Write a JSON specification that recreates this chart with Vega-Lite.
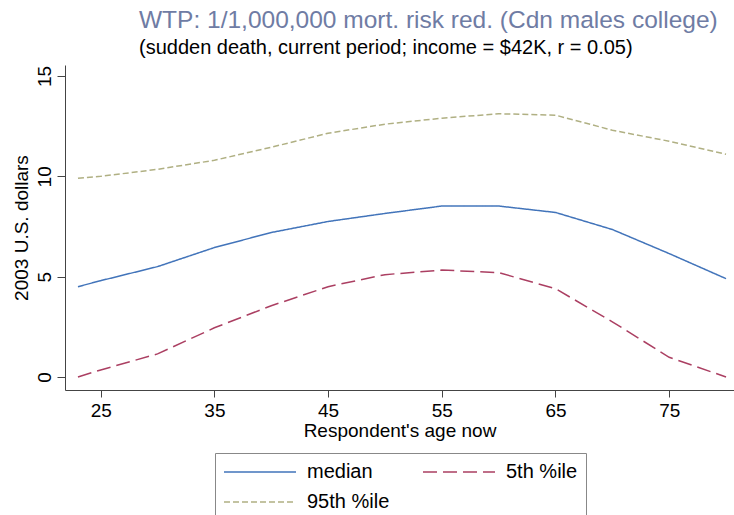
{
  "$schema": "https://vega.github.io/schema/vega-lite/v6.json",
  "width": 669,
  "height": 325,
  "autosize": {"type": "none"},
  "padding": {"left": 65, "top": 65, "right": 0, "bottom": 125},
  "background": "white",
  "title": {
    "text": "WTP: 1/1,000,000 mort. risk red. (Cdn males college)",
    "subtitle": "(sudden death, current period; income = $42K, r = 0.05)",
    "anchor": "start",
    "frame": "group",
    "dx": 74,
    "font": "Liberation Sans",
    "fontSize": 24.5,
    "fontWeight": "normal",
    "color": "#6f7ca4",
    "subtitleFont": "Liberation Sans",
    "subtitleFontSize": 20,
    "subtitleColor": "#000000",
    "subtitlePadding": 5,
    "offset": 6
  },
  "config": {
    "view": {"stroke": null},
    "axis": {
      "labelFont": "Liberation Sans",
      "titleFont": "Liberation Sans",
      "labelFontSize": 19,
      "titleFontSize": 19,
      "titleFontWeight": "normal",
      "labelColor": "#000000",
      "titleColor": "#000000",
      "domainColor": "#444444",
      "tickColor": "#444444",
      "grid": false,
      "tickSize": 7
    },
    "legend": {
      "labelFont": "Liberation Sans",
      "labelFontSize": 20,
      "labelColor": "#000000",
      "symbolType": "M-1,0H6.2",
      "symbolSize": 400,
      "symbolStrokeWidth": 1.5,
      "labelOffset": 62,
      "columnPadding": 30,
      "rowPadding": 9,
      "strokeColor": "#888888",
      "padding": 8,
      "labelLimit": 300
    }
  },
  "data": {
    "values": [
      {"age": 23, "value": 4.5, "series": "median"},
      {"age": 25, "value": 4.8, "series": "median"},
      {"age": 30, "value": 5.5, "series": "median"},
      {"age": 35, "value": 6.45, "series": "median"},
      {"age": 40, "value": 7.2, "series": "median"},
      {"age": 45, "value": 7.75, "series": "median"},
      {"age": 50, "value": 8.15, "series": "median"},
      {"age": 55, "value": 8.52, "series": "median"},
      {"age": 60, "value": 8.52, "series": "median"},
      {"age": 65, "value": 8.2, "series": "median"},
      {"age": 70, "value": 7.35, "series": "median"},
      {"age": 75, "value": 6.15, "series": "median"},
      {"age": 80, "value": 4.9, "series": "median"},
      {"age": 23, "value": 0.0, "series": "5th %ile"},
      {"age": 25, "value": 0.35, "series": "5th %ile"},
      {"age": 30, "value": 1.15, "series": "5th %ile"},
      {"age": 35, "value": 2.45, "series": "5th %ile"},
      {"age": 40, "value": 3.55, "series": "5th %ile"},
      {"age": 45, "value": 4.5, "series": "5th %ile"},
      {"age": 50, "value": 5.1, "series": "5th %ile"},
      {"age": 55, "value": 5.33, "series": "5th %ile"},
      {"age": 60, "value": 5.2, "series": "5th %ile"},
      {"age": 65, "value": 4.4, "series": "5th %ile"},
      {"age": 70, "value": 2.75, "series": "5th %ile"},
      {"age": 75, "value": 0.98, "series": "5th %ile"},
      {"age": 80, "value": 0.0, "series": "5th %ile"},
      {"age": 23, "value": 9.9, "series": "95th %ile"},
      {"age": 25, "value": 10.0, "series": "95th %ile"},
      {"age": 30, "value": 10.35, "series": "95th %ile"},
      {"age": 35, "value": 10.8, "series": "95th %ile"},
      {"age": 40, "value": 11.45, "series": "95th %ile"},
      {"age": 45, "value": 12.15, "series": "95th %ile"},
      {"age": 50, "value": 12.6, "series": "95th %ile"},
      {"age": 55, "value": 12.9, "series": "95th %ile"},
      {"age": 60, "value": 13.12, "series": "95th %ile"},
      {"age": 65, "value": 13.05, "series": "95th %ile"},
      {"age": 70, "value": 12.3, "series": "95th %ile"},
      {"age": 75, "value": 11.75, "series": "95th %ile"},
      {"age": 80, "value": 11.1, "series": "95th %ile"}
    ]
  },
  "mark": {"type": "line", "strokeWidth": 1.5},
  "encoding": {
    "x": {
      "field": "age",
      "type": "quantitative",
      "scale": {"domain": [21.86, 80.7], "nice": false, "zero": false},
      "axis": {
        "values": [25, 35, 45, 55, 65, 75],
        "title": "Respondent's age now",
        "labelPadding": 4,
        "titlePadding": 1
      }
    },
    "y": {
      "field": "value",
      "type": "quantitative",
      "scale": {"domain": [-0.65, 15.55], "nice": false, "zero": false},
      "axis": {
        "values": [0, 5, 10, 15],
        "title": "2003 U.S. dollars",
        "labelAngle": -90,
        "labelAlign": "center",
        "labelBaseline": "bottom",
        "labelPadding": 3,
        "titlePadding": 4,
        "tickSize": 8
      }
    },
    "color": {
      "field": "series",
      "type": "nominal",
      "scale": {"domain": ["median", "5th %ile", "95th %ile"], "range": ["#4274ba", "#ab3f62", "#b0b083"]},
      "legend": {"title": null, "orient": "none", "legendX": 150, "legendY": 388, "direction": "horizontal", "columns": 2}
    },
    "strokeDash": {
      "field": "series",
      "type": "nominal",
      "scale": {"domain": ["median", "5th %ile", "95th %ile"], "range": [[1, 0], [14, 6], [6, 3]]},
      "legend": {"title": null, "orient": "none", "legendX": 150, "legendY": 388, "direction": "horizontal", "columns": 2}
    }
  }
}
